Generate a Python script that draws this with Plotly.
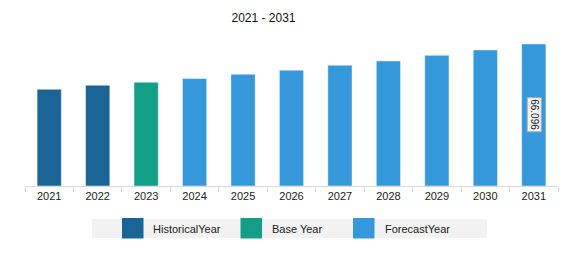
import plotly.graph_objects as go

years = ["2021", "2022", "2023", "2024", "2025", "2026", "2027", "2028", "2029", "2030", "2031"]
values = [45.0, 46.9, 48.3, 50.0, 52.0, 53.9, 56.2, 58.2, 60.8, 63.3, 66.096]
kinds = ["Historical", "Historical", "Base", "Forecast", "Forecast", "Forecast",
         "Forecast", "Forecast", "Forecast", "Forecast", "Forecast"]
legend_names = ["HistoricalYear", "Base Year", "ForecastYear"]
label_year = "2031"
label_text = "66.096"
title_text = "2021 - 2031"

colors = {"Historical": "#1a6496", "Base": "#139e87", "Forecast": "#3498db"}

fig = go.Figure()
fig.add_trace(go.Bar(
    x=years, y=values,
    marker=dict(color=[colors[k] for k in kinds],
                line=dict(color="rgba(255,255,255,0.45)", width=1)),
    showlegend=False, hoverinfo="x+y",
))

idx = years.index(label_year)
fig.add_annotation(x=idx, y=values[idx] / 2, text=label_text, textangle=90,
                   showarrow=False, bgcolor="#f4f4f4", bordercolor="#b0b0b0", borderwidth=1,
                   borderpad=1, font=dict(family="Liberation Sans, Arial", size=10, color="#222"))

W, H = 575, 265
ml, mr, mt, mb = 25, 17, 30, 79
pw, ph = W - ml - mr, H - mt - mb

def px(x):
    return (x - ml) / pw

def py(y):
    return (H - mb - y) / ph

fig.add_shape(type="rect", xref="paper", yref="paper", x0=px(92), x1=px(487), y0=py(238), y1=py(219),
              fillcolor="#f2f2f2", line=dict(width=0), layer="below")
sw = [(122, 143.5, 151), (240.5, 262, 270), (353, 374.5, 383)]
for (x0, x1, tx), name, k in zip(sw, legend_names, ["Historical", "Base", "Forecast"]):
    fig.add_shape(type="rect", xref="paper", yref="paper", x0=px(x0), x1=px(x1), y0=py(238.5), y1=py(218),
                  fillcolor=colors[k], line=dict(width=0))
    fig.add_annotation(xref="paper", yref="paper", x=px(tx), y=py(228.5), text=name, showarrow=False,
                       xanchor="left", yanchor="middle",
                       font=dict(family="Liberation Sans, Arial", size=11, color="#222"))

fig.update_layout(
    width=W, height=H,
    margin=dict(l=ml, r=mr, t=mt, b=mb),
    paper_bgcolor="white", plot_bgcolor="white",
    bargap=0.5,
    title=dict(text=title_text, x=263.5 / W, xref="container", xanchor="center",
               y=1 - 18 / H, yanchor="middle",
               font=dict(family="Liberation Sans, Arial", size=12, color="#111")),
    xaxis=dict(type="category", range=[-0.5, len(years) - 0.5], showline=True, linecolor="#d9d9d9",
               linewidth=1, ticks="outside", tickson="boundaries", ticklen=5, tickcolor="#d9d9d9",
               tickangle=0,
               tickfont=dict(family="Liberation Sans, Arial", size=11, color="#222"),
               showgrid=False, fixedrange=True),
    yaxis=dict(range=[0, 72.6], visible=False, showgrid=False, fixedrange=True),
    showlegend=False,
)

fig.write_html("out.html")
